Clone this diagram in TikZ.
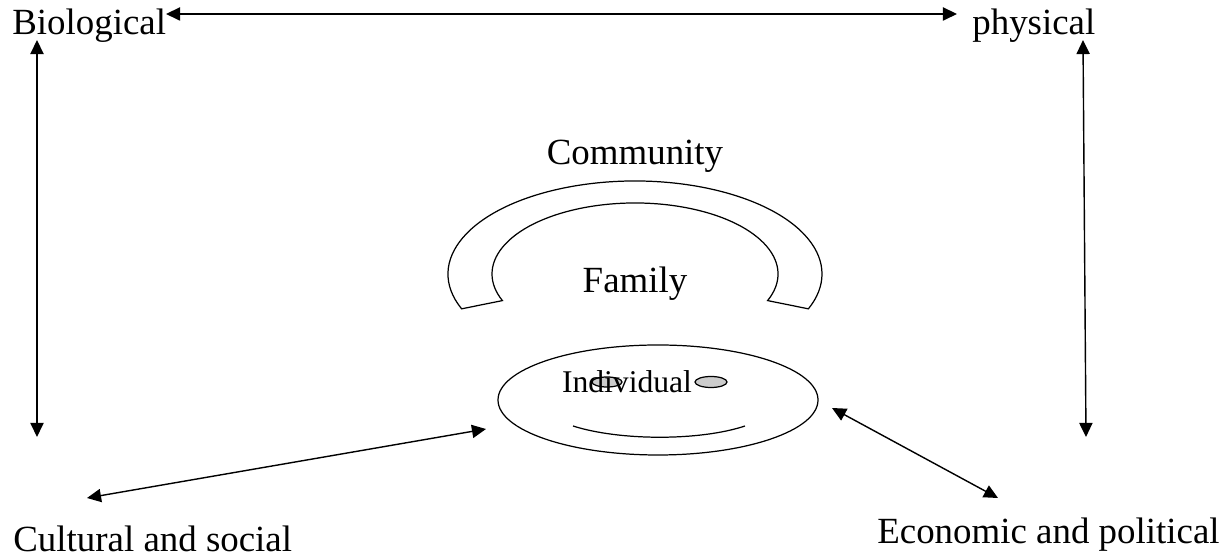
\documentclass[tikz,border=0pt]{standalone}
\usepackage{fontspec}
\setmainfont{Liberation Serif}
\usetikzlibrary{arrows.meta, calc}

\begin{document}
\begin{tikzpicture}[
  x=0.02cm, y=0.02cm,
  lbl/.style={inner sep=0pt, font=\fontsize{21}{25}\selectfont},
  link/.style={{Triangle[length=8pt,width=7.5pt]}-{Triangle[length=8pt,width=7.5pt]}, line width=0.8pt},
  ring/.style={draw, line width=0.7pt}
]
  \useasboundingbox (0,0) rectangle (1230,560);

  % the four outer spheres
  \node[lbl, anchor=base west] (bio)  at (12, 525) {Biological};
  \node[lbl, anchor=base west] (phys) at (972, 525) {physical};
  \node[lbl, anchor=base west] (cult) at (13, 8) {Cultural and social};
  \node[lbl, anchor=base west] (econ) at (877, 16) {Economic and political};

  % community and family
  \coordinate (homeC) at (635, 286);
  \draw[ring] ($(homeC)+(202:187 and 93)$)
    arc[start angle=202, end angle=-22, x radius=187, y radius=93]
    -- ($(homeC)+(-22:143 and 71)$)
    arc[start angle=-22, end angle=202, x radius=143, y radius=71]
    -- cycle;
  \node[lbl, anchor=base] (comm) at (635, 395) {Community};
  \node[lbl, anchor=base] (fam)  at (635, 267) {Family};

  % individual
  \coordinate (selfC) at (658, 160);
  \draw[ring] (selfC) ellipse[x radius=160, y radius=55];
  \draw[ring, fill=gray!40] (607, 178) ellipse[x radius=15, y radius=5];
  \draw[ring, fill=gray!40] (711, 178) ellipse[x radius=16, y radius=5.5];
  \node[inner sep=0pt, anchor=base, font=\fontsize{18}{22}\selectfont] (indiv) at (627, 167) {Individual};
  \coordinate (mouthL) at (573, 134);
  \coordinate (mouthR) at (745, 134);
  \draw[ring] (mouthL) .. controls (620, 119) and (700, 119) .. (mouthR);

  % arrow ends
  \coordinate (bioR)  at (166, 546);
  \coordinate (physL) at (957, 546);
  \coordinate (bioD)  at (37, 520);
  \coordinate (cultU) at (37, 123);
  \coordinate (physD) at (1083, 520);
  \coordinate (econU) at (1086, 123);
  \coordinate (cultR) at (87, 62);
  \coordinate (selfL) at (486, 131);
  \coordinate (selfR) at (832, 152);
  \coordinate (econL) at (998, 62);

  \draw[link] (bioR) -- (physL);
  \draw[link] (bioD) -- (cultU);
  \draw[link] (physD) -- (econU);
  \draw[link] (cultR) -- (selfL);
  \draw[link] (selfR) -- (econL);
\end{tikzpicture}
\end{document}
